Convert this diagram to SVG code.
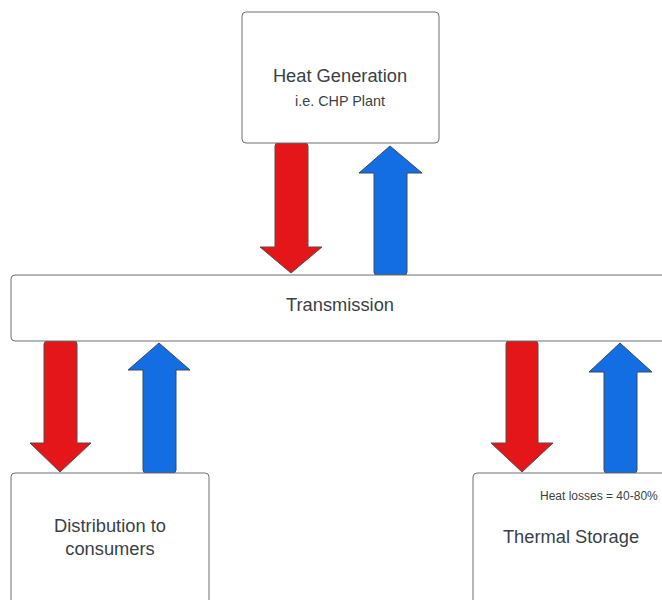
<svg xmlns="http://www.w3.org/2000/svg" width="662" height="600" viewBox="0 0 662 600">
<style>
.box{fill:#ffffff;stroke:#6b6e73;stroke-width:1}
.t{font-family:"Liberation Sans",Arial,sans-serif;fill:#3a3f47;text-anchor:middle}
.red{fill:#e5161a;stroke:#5c4a4a;stroke-width:1;stroke-linejoin:round}
.blue{fill:#136ee3;stroke:#3f4b5c;stroke-width:1;stroke-linejoin:round}
</style>
<rect width="662" height="600" fill="#ffffff"/>
<g id="connectors">
  <path class="red" d="M278,143 H305 Q308,143 308,146 V247 H322 L291,273 L260,247 H275 V146 Q275,143 278,143 Z"/>
  <path class="blue" d="M390,146 L422,173 H407 V272 Q407,275 404,275 H377 Q374,275 374,272 V173 H359 Z"/>
  <path class="red" d="M48,341 H74 Q77,341 77,344 V443 H91 L60,472 L30,443 H44 V344 Q44,341 48,341 Z"/>
  <path class="blue" d="M159,343 L190,370 H176 V470 Q176,473 173,473 H146 Q143,473 143,470 V370 H128 Z"/>
  <path class="red" d="M509,341 H535 Q538,341 538,344 V443 H553 L522,472 L491,443 H506 V344 Q506,341 509,341 Z"/>
  <path class="blue" d="M620,343 L652,372 H637 V470 Q637,473 634,473 H607 Q604,473 604,470 V372 H589 Z"/>
</g>
<g id="heat-generation">
  <rect class="box" x="242" y="12" width="197" height="131" rx="4"/>
  <text class="t" x="340" y="82" font-size="18.3">Heat Generation</text>
  <text class="t" x="340" y="106" font-size="14.4">i.e. CHP Plant</text>
</g>
<g id="transmission">
  <rect class="box" x="11" y="275" width="670" height="66" rx="4"/>
  <text class="t" x="340" y="311" font-size="18.3">Transmission</text>
</g>
<g id="distribution">
  <rect class="box" x="11" y="473" width="198" height="140" rx="4"/>
  <text class="t" x="110" y="532" font-size="18.3">Distribution to</text>
  <text class="t" x="110" y="555" font-size="18.3">consumers</text>
</g>
<g id="thermal-storage">
  <rect class="box" x="473" y="473" width="210" height="140" rx="4"/>
  <text class="t" x="540" y="500" font-size="12" style="text-anchor:start">Heat losses = 40-80%</text>
  <text class="t" x="571" y="543" font-size="18.3">Thermal Storage</text>
</g>
</svg>
